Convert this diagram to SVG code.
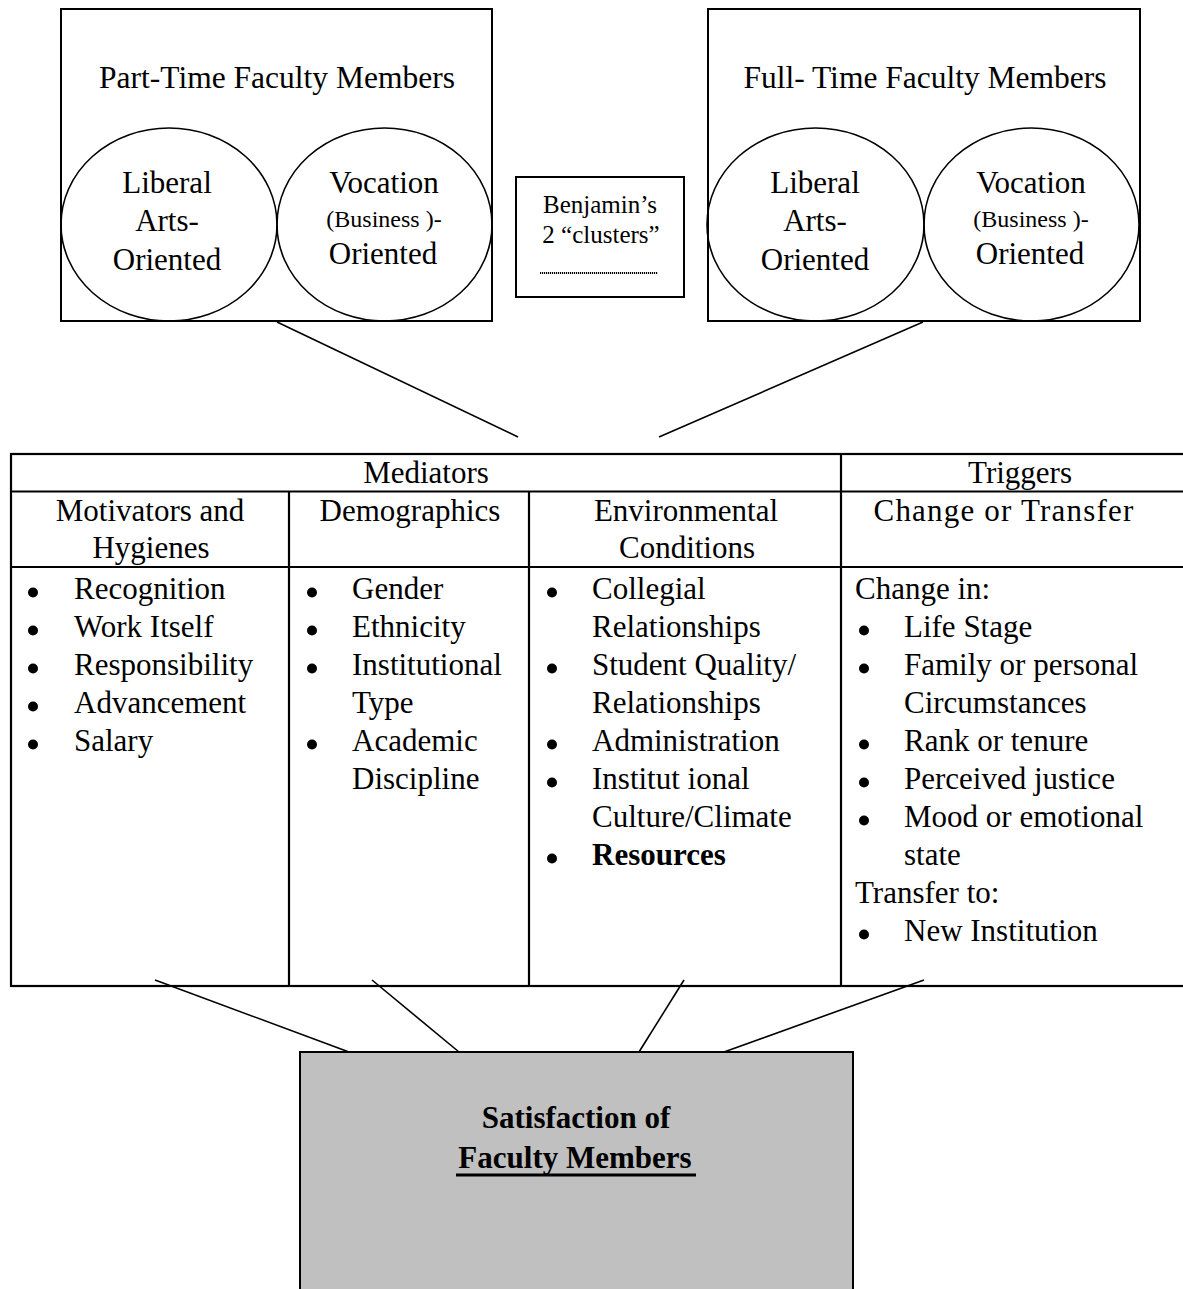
<svg xmlns="http://www.w3.org/2000/svg" width="1183" height="1289" viewBox="0 0 1183 1289">
<style>
  .t { font-family: "Liberation Serif", "Times New Roman", serif; font-size: 31px; fill: #000; }
  .c { text-anchor: middle; }
  .ti { font-size: 31.5px; }
  .sm { font-size: 24px; }
  .bj { font-size: 25px; }
  .b { font-weight: bold; }
  .box { fill: #fff; stroke: #000; stroke-width: 2; }
  .ell { fill: none; stroke: #000; stroke-width: 1.6; }
  .grid { stroke: #000; stroke-width: 2.2; fill: none; }
  .conn { stroke: #000; stroke-width: 1.6; fill: none; }
  .bul { fill: #000; }
</style>
<defs>
  <circle id="dot" r="5" class="bul"/>
</defs>
<rect width="1183" height="1289" fill="#fff"/>

<g id="connectors">
  <line class="conn" x1="277" y1="322" x2="518" y2="437"/>
  <line class="conn" x1="923" y1="322" x2="659" y2="437"/>
  <line class="conn" x1="155" y1="980" x2="349" y2="1052"/>
  <line class="conn" x1="372" y1="980" x2="459" y2="1052"/>
  <line class="conn" x1="684" y1="980" x2="639" y2="1052"/>
  <line class="conn" x1="924" y1="980" x2="724" y2="1052"/>
</g>

<g id="part-time">
  <rect class="box" x="61" y="9" width="431" height="312"/>
  <text class="t c ti" x="277" y="88">Part-Time Faculty Members</text>
  <g id="pt-liberal">
    <ellipse class="ell" cx="169" cy="224.5" rx="108" ry="96.5"/>
    <text class="t c" x="167" y="193">Liberal</text>
    <text class="t c" x="167" y="231">Arts-</text>
    <text class="t c" x="167" y="270">Oriented</text>
  </g>
  <g id="pt-vocation">
    <ellipse class="ell" cx="384.5" cy="224.5" rx="107.5" ry="96.5"/>
    <text class="t c" x="384" y="193">Vocation</text>
    <text class="t c sm" x="384" y="227">(Business )-</text>
    <text class="t c" x="383" y="264">Oriented</text>
  </g>
</g>

<g id="benjamin">
  <rect class="box" x="516" y="177" width="168" height="120"/>
  <text class="t c bj" x="600" y="213">Benjamin’s</text>
  <text class="t c bj" x="601" y="243">2 “clusters”</text>
  <line x1="540" y1="273" x2="658" y2="273" stroke="#000" stroke-width="1.8" stroke-dasharray="1.2,0.8"/>
</g>

<g id="full-time">
  <rect class="box" x="708" y="9" width="432" height="312"/>
  <text class="t c ti" x="925" y="88">Full- Time Faculty Members</text>
  <g id="ft-liberal">
    <ellipse class="ell" cx="815.5" cy="224.5" rx="108.5" ry="96.5"/>
    <text class="t c" x="815" y="193">Liberal</text>
    <text class="t c" x="815" y="231">Arts-</text>
    <text class="t c" x="815" y="270">Oriented</text>
  </g>
  <g id="ft-vocation">
    <ellipse class="ell" cx="1031.5" cy="224.5" rx="107.5" ry="96.5"/>
    <text class="t c" x="1031" y="193">Vocation</text>
    <text class="t c sm" x="1031" y="227">(Business )-</text>
    <text class="t c" x="1030" y="264">Oriented</text>
  </g>
</g>

<g id="table">
  <rect class="grid" x="11" y="454" width="1200" height="532"/>
  <line class="grid" x1="11" y1="491.5" x2="1211" y2="491.5"/>
  <line class="grid" x1="11" y1="567" x2="1211" y2="567"/>
  <line class="grid" x1="289" y1="491.5" x2="289" y2="986"/>
  <line class="grid" x1="529" y1="491.5" x2="529" y2="986"/>
  <line class="grid" x1="841" y1="454" x2="841" y2="986"/>

  <text class="t c" x="426" y="483">Mediators</text>
  <text class="t c" x="1020" y="483">Triggers</text>

  <text class="t c" x="150" y="521">Motivators and</text>
  <text class="t c" x="151" y="558">Hygienes</text>
  <text class="t c" x="410" y="521">Demographics</text>
  <text class="t c" x="686" y="521">Environmental</text>
  <text class="t c" x="687" y="558">Conditions</text>
  <text class="t c" x="1004" y="521" letter-spacing="1.2">Change or Transfer</text>

  <g id="col-motivators">
    <use href="#dot" x="33" y="592.5"/><text class="t" x="74" y="599">Recognition</text>
    <use href="#dot" x="33" y="630.5"/><text class="t" x="74" y="637">Work Itself</text>
    <use href="#dot" x="33" y="668.5"/><text class="t" x="74" y="675">Responsibility</text>
    <use href="#dot" x="33" y="706.5"/><text class="t" x="74" y="713">Advancement</text>
    <use href="#dot" x="33" y="744.5"/><text class="t" x="74" y="751">Salary</text>
  </g>
  <g id="col-demographics">
    <use href="#dot" x="312" y="592.5"/><text class="t" x="352" y="599">Gender</text>
    <use href="#dot" x="312" y="630.5"/><text class="t" x="352" y="637">Ethnicity</text>
    <use href="#dot" x="312" y="668.5"/><text class="t" x="352" y="675">Institutional</text>
    <text class="t" x="352" y="713">Type</text>
    <use href="#dot" x="312" y="744.5"/><text class="t" x="352" y="751">Academic</text>
    <text class="t" x="352" y="789">Discipline</text>
  </g>
  <g id="col-environmental">
    <use href="#dot" x="552" y="592.5"/><text class="t" x="592" y="599">Collegial</text>
    <text class="t" x="592" y="637">Relationships</text>
    <use href="#dot" x="552" y="668.5"/><text class="t" x="592" y="675">Student Quality/</text>
    <text class="t" x="592" y="713">Relationships</text>
    <use href="#dot" x="552" y="744.5"/><text class="t" x="592" y="751">Administration</text>
    <use href="#dot" x="552" y="782.5"/><text class="t" x="592" y="789">Institut ional</text>
    <text class="t" x="592" y="827">Culture/Climate</text>
    <use href="#dot" x="552" y="858.5"/><text class="t b" x="592" y="865">Resources</text>
  </g>
  <g id="col-triggers">
    <text class="t" x="855" y="599">Change in:</text>
    <use href="#dot" x="864" y="630.5"/><text class="t" x="904" y="637">Life Stage</text>
    <use href="#dot" x="864" y="668.5"/><text class="t" x="904" y="675">Family or personal</text>
    <text class="t" x="904" y="713">Circumstances</text>
    <use href="#dot" x="864" y="744.5"/><text class="t" x="904" y="751">Rank or tenure</text>
    <use href="#dot" x="864" y="782.5"/><text class="t" x="904" y="789">Perceived justice</text>
    <use href="#dot" x="864" y="820.5"/><text class="t" x="904" y="827">Mood or emotional</text>
    <text class="t" x="904" y="865">state</text>
    <text class="t" x="855" y="903">Transfer to:</text>
    <use href="#dot" x="864" y="934.5"/><text class="t" x="904" y="941">New Institution</text>
  </g>
</g>

<g id="satisfaction">
  <rect x="300" y="1052" width="553" height="260" fill="#c0c0c0" stroke="#000" stroke-width="2"/>
  <text class="t c b" x="576" y="1128">Satisfaction of</text>
  <text class="t c b" x="575" y="1168">Faculty Members</text>
  <line x1="456" y1="1175" x2="696" y2="1175" stroke="#000" stroke-width="3"/>
</g>
</svg>
